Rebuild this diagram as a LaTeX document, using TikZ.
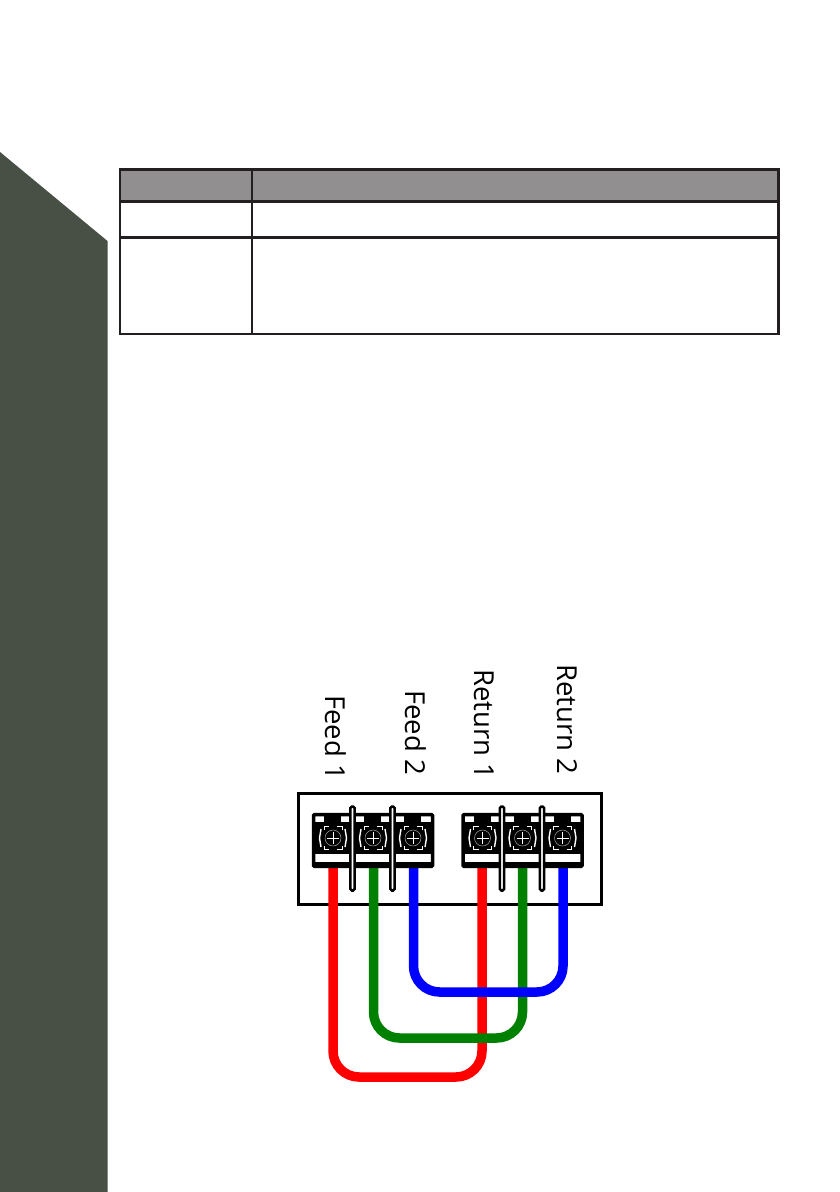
\documentclass[tikz,border=0pt]{standalone}
\usepackage{fontspec}
\setmainfont{Open Sans}
\definecolor{sidegreen}{HTML}{485045}
\definecolor{headgrey}{HTML}{918F90}
\definecolor{linek}{HTML}{231F20}
\definecolor{wgreen}{HTML}{008000}
\tikzset{
  x=1pt,y=-1pt,
  tablerule/.style={draw=linek,line width=2.1pt},
  wirered/.style={draw=red,line width=9.5pt,rounded corners=26pt},
  wiregreen/.style={draw=wgreen,line width=9.5pt,rounded corners=26pt},
  wireblue/.style={draw=blue,line width=9.5pt,rounded corners=26pt},
  lbl/.style={rotate=-90,anchor=west,font=\fontsize{27.5}{30}\selectfont,inner sep=0pt,text=black},
  blockbox/.style={draw=black,line width=3pt,fill=white}
}
% one terminal block of three positions, left edge #1
\newcommand{\termblock}[1]{%
  \begin{scope}[xshift=#1 pt]
    \draw[black,line width=3.5pt,fill=white,rounded corners=1pt] (1.5,814.5) rectangle (120.5,866.3);
    \fill[black] (1.5,822) rectangle (120.5,854);
    \fill[black] (1.5,862) rectangle (120.5,866);
    \foreach \o in {0,40,80}{
      \begin{scope}[xshift=\o pt]
        \fill[black] (12,815) rectangle (29,822);
        % side brackets
        \draw[white,line width=1.4pt] (9,829) -- (7.5,838) -- (9,847);
        \draw[white,line width=1.4pt] (33,829) -- (34.5,838) -- (33,847);
        % corner marks round the screw head
        \draw[white,line width=0.7pt] (12,830) -- (12,826.5) -- (17,826.5)
                                      (25,826.5) -- (30,826.5) -- (30,830)
                                      (12,846) -- (12,849.5) -- (17,849.5)
                                      (25,849.5) -- (30,849.5) -- (30,846);
        % screw head
        \draw[white!65!black,line width=0.5pt] (21,838) circle[radius=8];
        \draw[white,line width=1pt] (15,838) -- (27,838) (21,832) -- (21,844);
      \end{scope}
    }
    \foreach \d in {40.5,80.5}{
      \draw[black,line width=2.5pt,fill=white,rounded corners=1.5pt] (\d-2.2,806.5) rectangle (\d+2.2,890.5);
    }
  \end{scope}}
\begin{document}
\begin{tikzpicture}
\useasboundingbox (0,0) rectangle (840,1192);
\fill[white] (0,0) rectangle (840,1192);
\fill[sidegreen] (0,152) -- (107.5,241) -- (107.5,1192) -- (0,1192) -- cycle;
% table
\fill[headgrey] (120,169) rectangle (778,201.5);
\draw[tablerule] (120,169.5) rectangle (778.5,334);
\draw[tablerule] (120,201.5) -- (778.5,201.5);
\draw[tablerule] (120,237.5) -- (778.5,237.5);
\draw[tablerule] (252,169.5) -- (252,334);
% enclosure
\node[blockbox,minimum width=303pt,minimum height=111pt,inner sep=0pt,anchor=north west] (box) at (296.5,791.8) {};
% wire ends
\coordinate (r1) at (333,866);
\coordinate (g1) at (373.5,866);
\coordinate (b1) at (413.5,866);
\coordinate (r2) at (482,866);
\coordinate (g2) at (522.5,866);
\coordinate (b2) at (563,866);
\coordinate (rb) at (0,1077);
\coordinate (gb) at (0,1038);
\coordinate (bb) at (0,992);
\draw[wirered] (r1) -- (r1 |- rb) -- (r2 |- rb) -- (r2);
\draw[wiregreen] (g1) -- (g1 |- gb) -- (g2 |- gb) -- (g2);
\draw[wireblue] (b1) -- (b1 |- bb) -- (b2 |- bb) -- (b2);
\termblock{312}
\termblock{461.5}
% labels
\node[lbl] (feedone) at (336,695) {Feed 1};
\node[lbl] (feedtwo) at (416,690) {Feed 2};
\node[lbl] (retone) at (484,669) {Return 1};
\node[lbl] (rettwo) at (567,664) {Return 2};
\end{tikzpicture}
\end{document}
